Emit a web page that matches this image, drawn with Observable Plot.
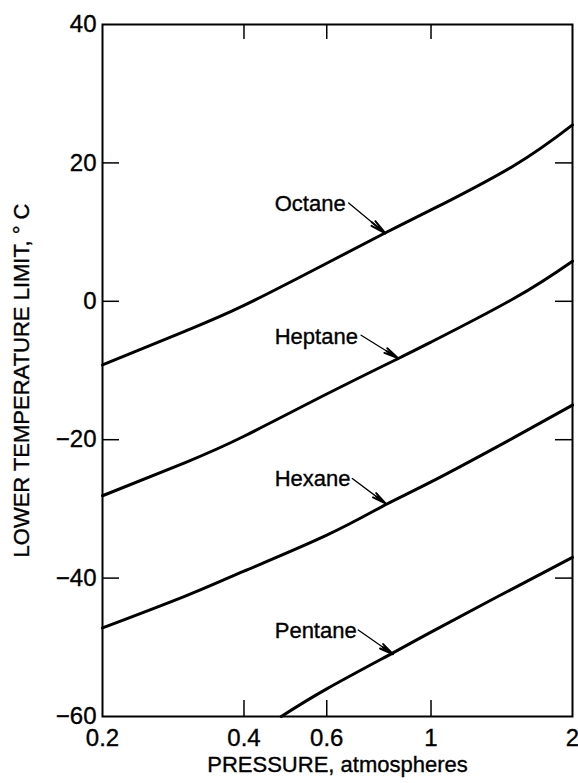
<!DOCTYPE html>
<html><head><meta charset="utf-8">
<script src="https://cdn.jsdelivr.net/npm/d3@7"></script>
<script src="https://cdn.jsdelivr.net/npm/@observablehq/plot@0.6"></script>
<style>
body{margin:0;background:#fff}
svg text{stroke:#000;stroke-width:0.35px;paint-order:stroke}
</style>
</head><body><div id="chart"></div>
<script>
// Curve readings: [pressure (atm), lower temperature limit (°C)]
const octane  = [[0.2,-9.2],[0.3,-4.3],[0.4,-0.6],[0.6,5.5],[0.8,9.9],[1,13.2],[1.5,19.6],[2,25.5]];
const heptane = [[0.2,-28.1],[0.3,-23.3],[0.4,-19.5],[0.6,-13.4],[0.85,-8.3],[1,-5.9],[1.5,0.4],[2,5.8]];
const hexane  = [[0.2,-47.2],[0.3,-42.6],[0.4,-39.0],[0.6,-33.8],[0.8,-29.4],[1,-26.1],[1.5,-19.7],[2,-15.0]];
const pentane = [[0.48,-60],[0.6,-56.0],[0.83,-50.8],[1,-47.8],[1.34,-43.2],[2,-37.0]];

const seriesNames = ["Octane","Heptane","Hexane","Pentane"];
const seriesData = [octane, heptane, hexane, pentane];

// Label anchors and arrows (data coordinates)
const labelP = [0.465, 0.465, 0.465, 0.465];
const labelT = [14.0, -5.2, -25.7, -47.7];
const arrowFromP = [0.668, 0.71, 0.68, 0.70];
const arrowFromT = [14.2, -4.9, -25.6, -47.5];
const arrowToP = [0.80, 0.85, 0.80, 0.83];
const arrowToT = [9.8, -8.2, -29.2, -51.0];

const xTickLabels = [0.2, 0.4, 0.6, 1, 2];
const xInnerTicks = [0.4, 0.6, 1];
const yTickLabels = [40, 20, 0, -20, -40, -60];
const yInnerTicks = [20, 0, -20, -40];
const xTitle = "PRESSURE, atmospheres";
const yTitle = "LOWER TEMPERATURE LIMIT, ° C";

const rows = seriesData.flatMap((s, i) => s.map(([p, t]) => ({series: seriesNames[i], p, t})));
const labels = seriesNames.map((name, i) => ({name, p: labelP[i], t: labelT[i],
  x1: arrowFromP[i], y1: arrowFromT[i], x2: arrowToP[i], y2: arrowToT[i]}));

const W = 578, H = 783, mL = 102, mR = 6, mT = 24, mB = 67;
const pw = W - mL - mR, ph = H - mT - mB;

const chart = Plot.plot({
  width: W, height: H,
  marginLeft: mL, marginRight: mR, marginTop: mT, marginBottom: mB,
  style: {fontFamily: "'Liberation Sans', Arial, sans-serif", fontSize: "24px", background: "white", color: "black", overflow: "visible"},
  x: {type: "log", domain: [0.2, 2]},
  y: {domain: [-60, 40]},
  marks: [
    Plot.axisX({ticks: xTickLabels, tickSize: 0, tickPadding: 12, tickFormat: d => String(d), label: null, fontSize: 24}),
    Plot.axisY({ticks: yTickLabels, tickSize: 0, tickPadding: 6, tickFormat: d => (d < 0 ? "\u2212" + Math.abs(d) : String(d)), label: null, fontSize: 24}),
    Plot.tickY(yInnerTicks, {y: d => d, insetRight: pw - 17, stroke: "black", strokeWidth: 1.5}),
    Plot.tickY(yInnerTicks, {y: d => d, insetLeft: pw - 17, stroke: "black", strokeWidth: 1.5}),
    Plot.tickX(xInnerTicks, {x: d => d, insetBottom: ph - 15, stroke: "black", strokeWidth: 1.5}),
    Plot.tickX(xInnerTicks, {x: d => d, insetTop: ph - 16, stroke: "black", strokeWidth: 1.5}),
    Plot.frame({stroke: "black", strokeWidth: 2}),
    Plot.line(rows, {x: "p", y: "t", z: "series", stroke: "black", strokeWidth: 3, curve: "natural"}),
    Plot.text(labels, {x: "p", y: "t", text: "name", textAnchor: "start", fontSize: 22}),
    Plot.arrow(labels, {x1: "x1", y1: "y1", x2: "x2", y2: "y2", stroke: "black", strokeWidth: 1.3, headLength: 0}),
    Plot.arrow(labels, {x1: "x1", y1: "y1", x2: "x2", y2: "y2", stroke: "black", strokeWidth: 2, headLength: 12, headAngle: 22, insetStart: 30}),
    Plot.text([xTitle], {text: d => d, frameAnchor: "bottom", dy: 55, fontSize: 22}),
    Plot.text([yTitle], {text: d => d, frameAnchor: "left", textAnchor: "middle", dx: -81, dy: 10, rotate: -90, fontSize: 22})
  ]
});
document.getElementById("chart").appendChild(chart);
</script>
</body></html>
